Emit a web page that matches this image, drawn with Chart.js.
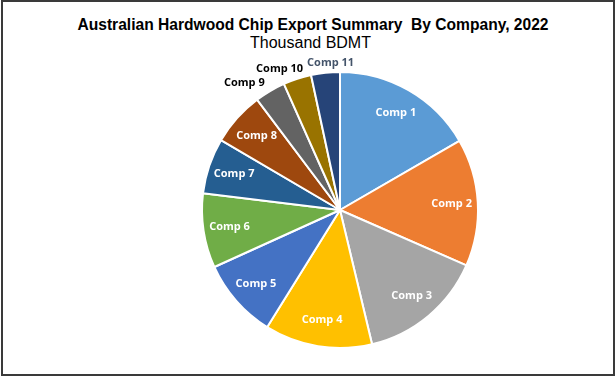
<!DOCTYPE html>
<html>
<head>
<meta charset="utf-8">
<script src="https://cdn.jsdelivr.net/npm/chart.js@4"></script>
<style>
  html, body { margin: 0; padding: 0; background: #fff; }
  #frame {
    position: absolute; left: 1px; top: 0; width: 610px; height: 372px;
    border: 2px solid #3a3a3a; background: #fff; overflow: hidden;
  }
  .title {
    position: absolute; left: 0; width: 620px; text-align: center;
    font-family: "Liberation Sans", Arial, sans-serif; color: #000;
  }
  #t1 { top: 14px; font-size: 15.6px; font-weight: bold; }
  #t2 { top: 32px; font-size: 16px; width: 615px; }
  #chartBox { position: absolute; left: -3px; top: -2px; width: 615px; height: 376px; }
</style>
</head>
<body>
<div id="frame">
  <div class="title" id="t1">Australian Hardwood Chip Export Summary&nbsp; By Company, 2022</div>
  <div class="title" id="t2">Thousand BDMT</div>
  <div id="chartBox"><canvas id="pieChart"></canvas></div>
</div>
<script>
// company names, and exports in thousand BDMT
const companies = ['Comp 1', 'Comp 2', 'Comp 3', 'Comp 4', 'Comp 5', 'Comp 6',
                   'Comp 7', 'Comp 8', 'Comp 9', 'Comp 10', 'Comp 11'];
const exportsKt = [500, 448, 441, 378, 281, 262, 195, 189, 108, 99, 101];

// Office palette used by the slices
const sliceColors = ['#5B9BD5', '#ED7D31', '#A5A5A5', '#FFC000', '#4472C4', '#70AD47',
                     '#255E91', '#9E480E', '#636363', '#997300', '#264478'];
// colour of the text when a label sits outside its slice
const outsideLabelColors = ['#000', '#000', '#000', '#000', '#000', '#000',
                            '#000', '#000', '#000', '#000', '#44546A'];

// simple data label plugin: inside for big slices, outside for thin ones
const sliceLabels = {
  id: 'sliceLabels',
  afterDatasetsDraw(chart) {
    const ctx = chart.ctx;
    const meta = chart.getDatasetMeta(0);
    ctx.save();
    ctx.font = 'bold 11px "Open Sans", sans-serif';
    ctx.textBaseline = 'middle';
    ctx.textAlign = 'center';
    let prevBox = null;
    meta.data.forEach((arc, i) => {
      const p = arc.getProps(['x', 'y', 'startAngle', 'endAngle', 'outerRadius'], true);
      const mid = (p.startAngle + p.endAngle) / 2;
      const span = p.endAngle - p.startAngle;
      const label = chart.data.labels[i];
      const ux = Math.cos(mid), uy = Math.sin(mid);
      if (span > 0.3) {
        const r = p.outerRadius * 0.81;
        ctx.fillStyle = '#fff';
        ctx.fillText(label, p.x + ux * r, p.y + uy * r);
        return;
      }
      // outside label: push the box away from the pie, then away from the previous label
      const w = ctx.measureText(label).width;
      const r = p.outerRadius + 10;
      let cx = p.x + ux * r + w * ux;
      const cy = p.y + uy * r;
      if (prevBox && Math.abs(cy - prevBox.cy) < 11 && cx - w / 2 < prevBox.right + 4) {
        cx = prevBox.right + 4 + w / 2;
      }
      ctx.fillStyle = outsideLabelColors[i];
      ctx.fillText(label, cx, cy);
      prevBox = { right: cx + w / 2, cy: cy };
    });
    ctx.restore();
  }
};

const chartCanvas = document.getElementById('pieChart');
new Chart(chartCanvas.getContext('2d'), {
  type: 'pie',
  data: {
    labels: companies,
    datasets: [{
      data: exportsKt,
      backgroundColor: sliceColors,
      borderColor: '#fff',
      borderWidth: 2
    }]
  },
  options: {
    responsive: true,
    maintainAspectRatio: false,
    animation: false,
    layout: {
      padding: { left: 201, right: 136, top: 71, bottom: 27 }
    },
    plugins: {
      legend: { display: false },
      tooltip: { enabled: false },
      title: { display: false }
    }
  },
  plugins: [sliceLabels]
});
</script>
</body>
</html>
